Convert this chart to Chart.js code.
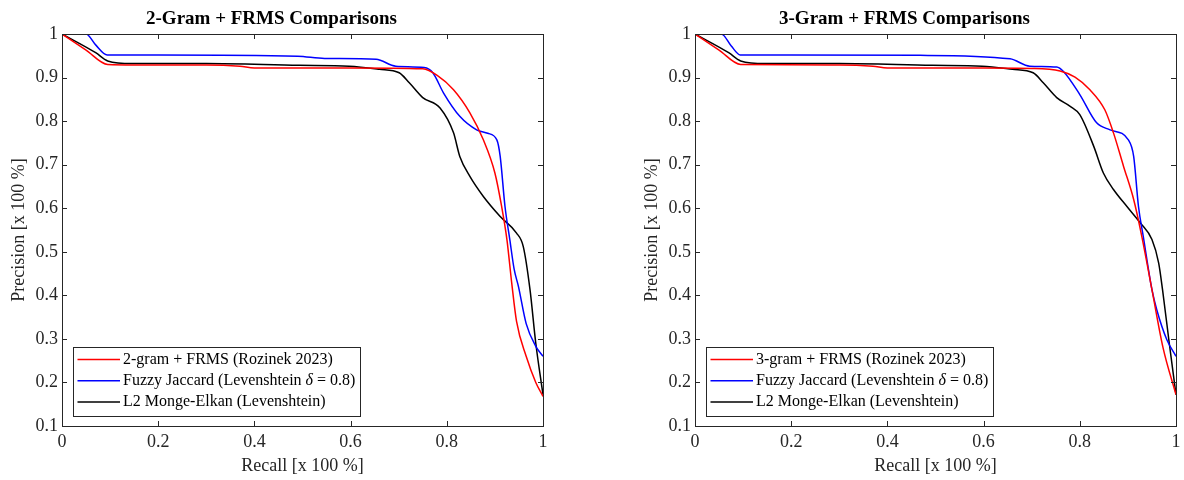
<!DOCTYPE html>
<html>
<head>
<meta charset="utf-8">
<script src="https://cdn.jsdelivr.net/npm/chart.js@4"></script>
<style>
  html, body { margin: 0; padding: 0; background: #fff; overflow: hidden; width: 1184px; height: 480px; }
  canvas { position: absolute; top: 0; }
  #chart2gram { left: 0; }
  #chart3gram { left: 633px; }
</style>
</head>
<body>
<canvas id="chart2gram" width="605" height="480"></canvas>
<canvas id="chart3gram" width="605" height="480"></canvas>
<script>
const xTicks = [0, 0.2, 0.4, 0.6, 0.8, 1];
const yTicks = [0.1, 0.2, 0.3, 0.4, 0.5, 0.6, 0.7, 0.8, 0.9, 1];

const titles = ['2-Gram + FRMS Comparisons', '3-Gram + FRMS Comparisons'];
const labels2 = ['2-gram + FRMS (Rozinek 2023)', 'Fuzzy Jaccard (Levenshtein δ = 0.8)', 'L2 Monge-Elkan (Levenshtein)'];
const labels3 = ['3-gram + FRMS (Rozinek 2023)', 'Fuzzy Jaccard (Levenshtein δ = 0.8)', 'L2 Monge-Elkan (Levenshtein)'];

// left chart (2-gram)
const gram2Recall    = [0, 0.05, 0.095, 0.15, 0.30, 0.37, 0.40, 0.60, 0.75, 0.78, 0.814, 0.848, 0.876, 0.90, 0.914, 0.925, 0.935, 0.945, 0.965, 0.985, 1];
const gram2Precision = [1, 0.963, 0.93, 0.929, 0.929, 0.926, 0.922, 0.922, 0.920, 0.905, 0.872, 0.819, 0.757, 0.681, 0.604, 0.528, 0.428, 0.34, 0.26, 0.20, 0.168];

const jaccardRecallL    = [0, 0.05, 0.07, 0.094, 0.2, 0.49, 0.546, 0.653, 0.694, 0.753, 0.771, 0.793, 0.827, 0.862, 0.885, 0.904, 0.911, 0.921, 0.931, 0.94, 0.949, 0.965, 0.985, 1];
const jaccardPrecisionL = [1, 1, 0.975, 0.952, 0.952, 0.949, 0.944, 0.942, 0.926, 0.923, 0.911, 0.865, 0.811, 0.780, 0.772, 0.757, 0.719, 0.604, 0.528, 0.46, 0.42, 0.335, 0.283, 0.26];

const mongeRecallL    = [0, 0.07, 0.095, 0.146, 0.30, 0.493, 0.597, 0.66, 0.701, 0.722, 0.75, 0.786, 0.814, 0.827, 0.848, 0.876, 0.911, 0.945, 0.959, 0.973, 0.985, 1];
const mongePrecisionL = [1, 0.957, 0.938, 0.932, 0.932, 0.928, 0.926, 0.919, 0.911, 0.888, 0.854, 0.830, 0.773, 0.719, 0.673, 0.627, 0.581, 0.543, 0.512, 0.413, 0.29, 0.172];

// right chart (3-gram)
const gram3Recall    = [0, 0.05, 0.095, 0.30, 0.37, 0.40, 0.60, 0.70, 0.759, 0.79, 0.821, 0.852, 0.870, 0.891, 0.912, 0.929, 0.95, 0.973, 1];
const gram3Precision = [1, 0.963, 0.93, 0.929, 0.926, 0.922, 0.922, 0.921, 0.915, 0.901, 0.872, 0.826, 0.773, 0.696, 0.62, 0.535, 0.413, 0.28, 0.172];

const jaccardRecallR    = [0, 0.055, 0.075, 0.094, 0.2, 0.468, 0.655, 0.696, 0.752, 0.766, 0.80, 0.835, 0.863, 0.901, 0.912, 0.922, 0.932, 0.95, 0.96, 0.981, 1];
const jaccardPrecisionR = [1, 1, 0.973, 0.952, 0.952, 0.951, 0.943, 0.926, 0.924, 0.914, 0.861, 0.796, 0.780, 0.757, 0.719, 0.604, 0.535, 0.413, 0.367, 0.298, 0.26];

const mongeRecallR    = [0, 0.07, 0.095, 0.146, 0.30, 0.493, 0.597, 0.66, 0.703, 0.724, 0.752, 0.78, 0.80, 0.829, 0.849, 0.87, 0.898, 0.926, 0.95, 0.964, 0.972, 0.986, 1];
const mongePrecisionR = [1, 0.957, 0.938, 0.932, 0.932, 0.928, 0.926, 0.919, 0.911, 0.888, 0.854, 0.834, 0.815, 0.742, 0.681, 0.643, 0.604, 0.566, 0.528, 0.474, 0.413, 0.29, 0.172];

const seriesColors = ['#ff0000', '#0000ff', '#000000'];
const serif = "'Liberation Serif', 'DejaVu Serif', serif";
const axisColor = '#262626';

const toPoints = (xs, ys) => xs.map((x, i) => ({ x: x, y: ys[i] }));

// box around plot + inward ticks, matlab style
const frameTicks = {
    id: 'frameTicks',
    afterDatasetsDraw(chart) {
        const { ctx, chartArea: a, scales: { x, y } } = chart;
        ctx.save();
        ctx.strokeStyle = axisColor;
        ctx.lineWidth = 1;
        ctx.beginPath();
        x.ticks.forEach(t => {
            const px = Math.round(x.getPixelForValue(t.value)) + 0.5;
            ctx.moveTo(px, a.bottom); ctx.lineTo(px, a.bottom - 5);
            ctx.moveTo(px, a.top); ctx.lineTo(px, a.top + 5);
        });
        y.ticks.forEach(t => {
            const py = Math.round(y.getPixelForValue(t.value)) + 0.5;
            ctx.moveTo(a.left, py); ctx.lineTo(a.left + 5, py);
            ctx.moveTo(a.right, py); ctx.lineTo(a.right - 5, py);
        });
        ctx.stroke();
        ctx.strokeRect(Math.round(a.left) + 0.5, Math.round(a.top) + 0.5, Math.round(a.width), Math.round(a.height));
        ctx.restore();
    }
};

const drawLabel = (ctx, text, x, y) => {
    const parts = text.split('δ');
    let cx = x;
    parts.forEach((p, i) => {
        if (i > 0) {
            ctx.font = 'italic 16px ' + serif;
            ctx.fillText('δ', cx, y);
            cx += ctx.measureText('δ').width;
        }
        ctx.font = '16px ' + serif;
        ctx.fillText(p, cx, y);
        cx += ctx.measureText(p).width;
    });
};

const boxLegend = {
    id: 'boxLegend',
    afterDraw(chart) {
        const { ctx, chartArea: a } = chart;
        const left = Math.round(a.left) + 11, top = Math.round(a.bottom) - 79;
        const w = 287, h = 69;
        ctx.save();
        ctx.fillStyle = '#fff';
        ctx.fillRect(left, top, w, h);
        ctx.strokeStyle = axisColor;
        ctx.lineWidth = 1;
        ctx.strokeRect(left + 0.5, top + 0.5, w, h);
        ctx.textBaseline = 'middle';
        chart.data.datasets.forEach((ds, i) => {
            const cy = top + 12.5 + i * 21.2;
            ctx.strokeStyle = ds.borderColor;
            ctx.lineWidth = 1.5;
            ctx.beginPath();
            ctx.moveTo(left + 4.5, cy);
            ctx.lineTo(left + 47, cy);
            ctx.stroke();
            ctx.fillStyle = '#000';
            drawLabel(ctx, ds.label, left + 50, cy);
        });
        ctx.restore();
    }
};

const makeChart = (id, title, labels, series) => {
    const ctx = document.getElementById(id).getContext('2d');
    return new Chart(ctx, {
        type: 'line',
        data: {
            datasets: series.map((s, i) => ({
                label: labels[i],
                data: toPoints(s[0], s[1]),
                borderColor: seriesColors[i],
                borderWidth: 1.5,
                pointRadius: 0,
                fill: false,
                cubicInterpolationMode: 'monotone'
            }))
        },
        options: {
            responsive: false,
            animation: false,
            layout: { padding: { left: 0, right: 62, top: 0, bottom: 0 } },
            scales: {
                x: {
                    type: 'linear',
                    min: 0,
                    max: 1,
                    afterBuildTicks: scale => { scale.ticks = xTicks.map(v => ({ value: v })); },
                    afterFit: scale => { scale.height = 54; },
                    grid: { display: false, drawTicks: false },
                    border: { display: false },
                    ticks: {
                        padding: 5,
                        color: axisColor,
                        font: { family: serif, size: 18 },
                        maxRotation: 0,
                        callback: v => String(+v.toFixed(1))
                    },
                    title: {
                        display: true,
                        text: 'Recall [x 100 %]',
                        color: axisColor,
                        font: { family: serif, size: 18 },
                        padding: { top: 0, bottom: 3 }
                    }
                },
                y: {
                    type: 'linear',
                    min: 0.1,
                    max: 1,
                    afterBuildTicks: scale => { scale.ticks = yTicks.map(v => ({ value: v })); },
                    afterFit: scale => { scale.width = 62; },
                    grid: { display: false, drawTicks: false },
                    border: { display: false },
                    ticks: {
                        padding: 4,
                        color: axisColor,
                        font: { family: serif, size: 18 },
                        callback: v => String(+v.toFixed(1))
                    },
                    title: {
                        display: true,
                        text: 'Precision [x 100 %]',
                        color: axisColor,
                        font: { family: serif, size: 18 },
                        padding: { top: 8, bottom: 0 }
                    }
                }
            },
            plugins: {
                legend: { display: false },
                tooltip: { enabled: false },
                title: {
                    display: true,
                    text: title,
                    color: '#000',
                    font: { family: serif, size: 19, weight: 'bold' },
                    padding: { top: 8, bottom: 3.2 }
                }
            }
        },
        plugins: [frameTicks, boxLegend]
    });
};

makeChart('chart2gram', titles[0], labels2, [
    [gram2Recall, gram2Precision],
    [jaccardRecallL, jaccardPrecisionL],
    [mongeRecallL, mongePrecisionL]
]);

makeChart('chart3gram', titles[1], labels3, [
    [gram3Recall, gram3Precision],
    [jaccardRecallR, jaccardPrecisionR],
    [mongeRecallR, mongePrecisionR]
]);
</script>
</body>
</html>
